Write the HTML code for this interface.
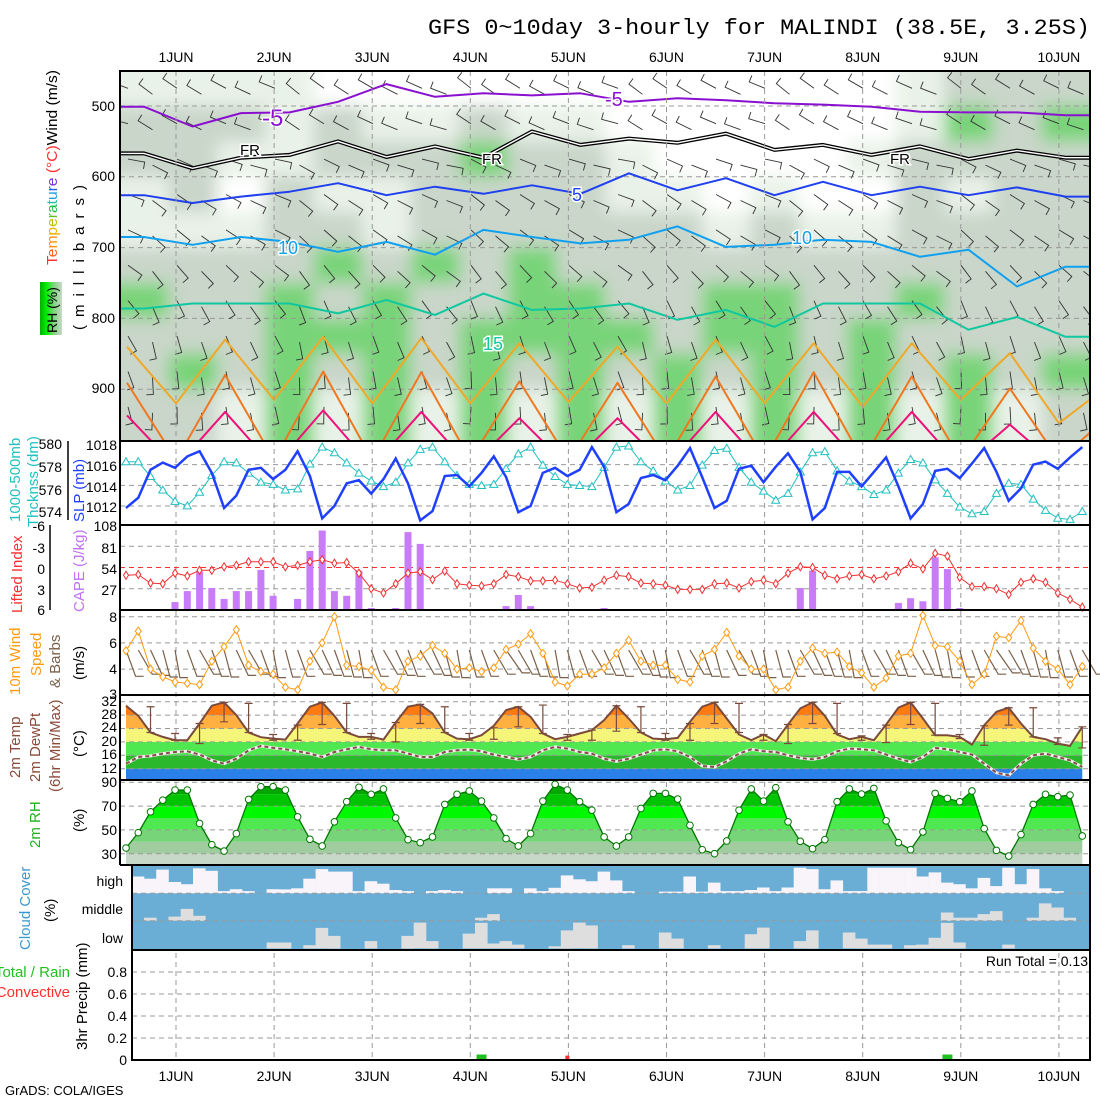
<!DOCTYPE html>
<html><head><meta charset="utf-8"><title>GFS meteogram MALINDI</title>
<style>
html,body{margin:0;padding:0;background:#fff;}
svg{display:block;font-family:"Liberation Sans",sans-serif;}
.lbl{font-size:14px;fill:#000;}
</style></head>
<body>
<svg id="chart" width="1100" height="1100" viewBox="0 0 1100 1100" xmlns="http://www.w3.org/2000/svg">
<defs>
<clipPath id="clipTop"><rect x="120" y="71" width="970" height="369"/></clipPath>
<filter id="soft" x="-5%" y="-5%" width="110%" height="110%"><feGaussianBlur stdDeviation="8"/></filter>
<linearGradient id="rhLeg" x1="0" x2="1" y1="0" y2="0">
<stop offset="0" stop-color="#00b000"/><stop offset="0.3" stop-color="#00f000"/><stop offset="0.6" stop-color="#78d478"/><stop offset="1" stop-color="#c8d8c8"/></linearGradient>
</defs>
<text x="428" y="34" font-family="Liberation Mono, monospace" font-size="22" textLength="662" lengthAdjust="spacingAndGlyphs">GFS 0~10day 3-hourly for MALINDI (38.5E, 3.25S)</text>
<text x="5" y="1095" font-size="13">GrADS: COLA/IGES</text>

<text transform="translate(57,265) rotate(-90)" font-size="15" textLength="195" lengthAdjust="spacingAndGlyphs"><tspan fill="#ff3030">T</tspan><tspan fill="#ff6020">e</tspan><tspan fill="#ff9010">m</tspan><tspan fill="#f0b000">p</tspan><tspan fill="#c0c000">e</tspan><tspan fill="#60c020">r</tspan><tspan fill="#20c040">a</tspan><tspan fill="#20c0a0">t</tspan><tspan fill="#20a0e0">u</tspan><tspan fill="#2060f0">r</tspan><tspan fill="#8030e0">e</tspan><tspan fill="#ff3030"> (°C)</tspan><tspan fill="#000">Wind (m/s)</tspan></text>
<text transform="translate(84,330) rotate(-90)" font-size="15" textLength="145" lengthAdjust="spacing">(millibars)</text>
<rect x="40" y="282" width="22" height="53" fill="url(#rhLeg)"/>
<text transform="translate(57,333) rotate(-90)" font-size="14">RH (%)</text>
<g class="lbl" text-anchor="end">
<text x="115" y="111">500</text><text x="115" y="181">600</text><text x="115" y="252">700</text><text x="115" y="323">800</text><text x="115" y="393">900</text>
</g>

<text transform="translate(20,522) rotate(-90)" font-size="15" fill="#20c0c0">1000-500mb</text>
<text transform="translate(38,527) rotate(-90)" font-size="15" fill="#20c0c0">Thcknss (dm)</text>
<text transform="translate(84,522) rotate(-90)" font-size="15" fill="#2040ff">SLP (mb)</text>
<line x1="68" y1="441" x2="68" y2="520" stroke="#000" stroke-width="1.5"/>
<g class="lbl" text-anchor="end">
<text x="62" y="449">580</text><text x="62" y="472">578</text><text x="62" y="495">576</text><text x="62" y="517">574</text></g>
<g class="lbl" text-anchor="end">
<text x="117" y="450">1018</text><text x="117" y="471">1016</text><text x="117" y="492">1014</text><text x="117" y="512">1012</text></g>

<text transform="translate(22,613) rotate(-90)" font-size="15" fill="#ff3030">Lifted Index</text>
<text transform="translate(84,612) rotate(-90)" font-size="15" fill="#c070f0">CAPE (J/kg)</text>
<line x1="50" y1="525" x2="50" y2="610" stroke="#000" stroke-width="1.5"/>
<g class="lbl" text-anchor="end">
<text x="45" y="531">-6</text><text x="45" y="553">-3</text><text x="45" y="574">0</text><text x="45" y="595">3</text><text x="45" y="615">6</text></g>
<g class="lbl" text-anchor="end">
<text x="117" y="531">108</text><text x="117" y="553">81</text><text x="117" y="574">54</text><text x="117" y="595">27</text></g>

<text transform="translate(20,695) rotate(-90)" font-size="15" fill="#ff9a10">10m Wind</text>
<text transform="translate(41,676) rotate(-90)" font-size="15" fill="#ff9a10">Speed</text>
<text transform="translate(60,688) rotate(-90)" font-size="15" fill="#7a6048">&amp; Barbs</text>
<text transform="translate(84,680) rotate(-90)" font-size="15">(m/s)</text>
<g class="lbl" text-anchor="end">
<text x="117" y="622">8</text><text x="117" y="648">6</text><text x="117" y="674">4</text><text x="117" y="699">3</text></g>

<text transform="translate(20,778) rotate(-90)" font-size="15" fill="#8a4a3a">2m Temp</text>
<text transform="translate(40,782) rotate(-90)" font-size="15" fill="#8a4a3a">2m DewPt</text>
<text transform="translate(60,792) rotate(-90)" font-size="15" fill="#8a4a3a">(6hr Min/Max)</text>
<text transform="translate(84,757) rotate(-90)" font-size="15">(°C)</text>
<g class="lbl" text-anchor="end" font-size="13">
<text x="117" y="706">32</text><text x="117" y="719">28</text><text x="117" y="732">24</text><text x="117" y="746">20</text><text x="117" y="759">16</text><text x="117" y="773">12</text></g>

<text transform="translate(40,848) rotate(-90)" font-size="15" fill="#20b020">2m RH</text>
<text transform="translate(84,832) rotate(-90)" font-size="15">(%)</text>
<g class="lbl" text-anchor="end">
<text x="117" y="787">90</text><text x="117" y="811">70</text><text x="117" y="835">50</text><text x="117" y="859">30</text></g>

<text transform="translate(30,950) rotate(-90)" font-size="15" fill="#3a9ad0">Cloud Cover</text>
<text transform="translate(55,922) rotate(-90)" font-size="15">(%)</text>
<g class="lbl" text-anchor="end" font-size="15">
<text x="123" y="886">high</text><text x="123" y="914">middle</text><text x="123" y="943">low</text></g>

<text x="70" y="977" font-size="15" fill="#20c020" text-anchor="end">Total / Rain</text>
<text x="70" y="997" font-size="15" fill="#ff3030" text-anchor="end">Convective</text>
<text transform="translate(87,1050) rotate(-90)" font-size="15">3hr Precip (mm)</text>
<g class="lbl" text-anchor="end">
<text x="127" y="977">0.8</text><text x="127" y="999">0.6</text><text x="127" y="1021">0.4</text><text x="127" y="1043">0.2</text><text x="127" y="1065">0</text></g>
<text x="1088" y="966" font-size="14" text-anchor="end">Run Total = 0.13</text>

<g id="plot"></g>
</svg>
<script>
const dayLabels=['1JUN','2JUN','3JUN','4JUN','5JUN','6JUN','7JUN','8JUN','9JUN','10JUN'];
const slp=[1011.8,1012.8,1015.5,1016.2,1015.7,1016.8,1017.3,1015.2,1011.8,1013.0,1015.5,1015.7,1014.6,1015.5,1017.3,1014.9,1010.8,1012.0,1014.2,1014.5,1013.2,1014.6,1016.6,1014.2,1010.6,1011.5,1014.9,1015.0,1013.9,1015.2,1016.8,1014.8,1011.4,1012.0,1015.2,1015.7,1014.9,1015.5,1017.7,1015.8,1011.4,1012.2,1014.7,1015.0,1014.5,1015.9,1017.6,1014.8,1011.8,1012.5,1015.6,1015.9,1014.3,1015.8,1017.1,1015.3,1010.7,1011.8,1015.3,1015.3,1013.9,1015.3,1016.7,1013.9,1010.8,1012.2,1015.4,1015.6,1014.7,1016.1,1017.6,1015.3,1012.5,1013.7,1016.0,1016.3,1015.6,1016.7,1017.7];
const thick=[578.4,578.4,577.1,575.9,574.9,574.5,575.7,577.2,578.4,578.3,577.4,576.6,576.4,575.9,576.0,578.2,579.7,579.2,578.3,577.4,576.7,576.2,576.6,578.3,579.5,579.7,578.4,577.2,576.4,576.3,576.4,577.8,579.1,579.7,578.1,577.1,576.4,576.3,576.2,577.9,579.7,579.8,578.4,577.6,576.7,575.9,576.3,578.1,579.4,579.6,577.9,576.6,575.8,575.0,575.6,577.5,579.2,579.3,577.6,576.7,576.2,575.5,575.9,577.4,578.6,578.3,576.8,575.6,574.4,573.8,574.0,575.6,576.5,576.4,575.1,574.1,573.4,573.3,574.0];
const cape=[1.3,0,0,0,10,24,49,28,14,24,24,51,18,0,14,75,101,24,18,50,2.5,0,2.5,99,84,0,0,0,0,0,0,5,19,5,0,0,0,0,1.3,2.5,0,0,0,0,0,0,0,0,0,0,0,0,0,0,0,28,50,0,0,0,0,0,0,9,15,11,67,52,2.5,0,0,0,0,0,0,0,0,0,0];
const liIdx=[1.1,1.0,2.2,2.3,0.8,1.2,0.4,0.4,-0.1,-0.3,-0.8,-0.8,-0.8,-0.1,-0.3,-0.8,-1.1,-0.6,-0.7,0.8,3.0,3.6,2.3,0.8,0.6,1.7,0.5,2.3,2.5,2.6,2.3,1.0,1.3,1.9,1.9,1.8,2.3,2.9,2.8,1.8,1.1,1.3,2.2,2.3,2.5,3.1,3.1,3.1,2.3,2.2,2.9,2.0,1.8,2.3,0.8,-0.1,0,1.1,1.6,1.2,1.0,1.6,1.2,0.6,-0.6,0.2,-2.0,-1.6,1.4,2.7,2.7,3.0,3.8,2.1,1.6,2.1,3.6,4.5,5.6];
const wspd=[5.4,6.9,4.0,3.7,3.5,3.45,3.4,4.6,5.7,7.0,4.3,3.9,3.8,3.3,3.2,4.6,6.0,8.0,4.3,4.2,3.95,3.3,3.2,4.6,5.0,5.8,5.2,4.0,4.1,3.9,4.1,5.5,5.9,6.7,5.2,3.5,3.35,3.8,3.8,4.1,5.2,6.2,4.6,4.3,4.3,3.6,3.5,5.0,5.5,6.8,5.0,4.0,4.0,3.2,3.3,4.6,5.6,5.2,5.3,4.2,3.85,3.3,3.65,5.0,5.2,8.1,5.8,5.7,4.6,3.4,3.8,6.5,6.4,7.7,5.6,4.6,4.0,3.4,4.2];
const wdir=[160,150,155,165,170,160,150,160,165,155,150,160,170,165,160,150,155,160,165,170,160,150,155,160,150,155,165,170,165,160,150,145,150,160,165,170,165,160,150,155,160,150,155,165,170,160,150,160,165,155,150,160,170,165,160,150,155,160,165,170,160,150,155,160,150,155,165,170,165,160,150,145,150,160,165,170,165,160,150];
const t2m=[30.8,27.8,22.8,21.5,20.5,20.5,25.5,30.8,31.8,28,22.8,21.4,21,20.7,25.5,30.5,31.8,27.8,22.8,21.5,21.5,20.7,25.8,30.5,31.2,28.5,22.8,21,20.8,22,24.8,29.5,30.5,27.5,22.5,20.8,21.5,22.5,23.5,26.5,30.8,27,22.8,21,20.8,21.2,26,30.5,31.8,27,22.2,20.5,22.2,20.2,25.2,30,31.8,27.8,22.2,20.8,21.5,20.5,25.2,30.2,31.8,27,22,22,21.5,19.2,25,29,30.2,25.5,21.5,20.8,19.5,18.8,24.5];
const td2m=[13.5,15.5,15.8,16.5,17,17.2,16.2,14.5,13.5,15,17.5,18.8,18.2,17.8,17.2,16.5,15.5,17,17.8,18.5,17.8,17.5,17.5,16.5,15.5,15.5,17,17.5,17.7,17.2,16.2,15.5,14.8,15.5,17.5,18.5,18,17,16.5,15,14.2,15,16.2,17.5,17.8,17.2,15.5,12.8,12.5,14.2,16.5,17.8,17.2,17,16,15.2,14.8,15.5,17.2,18,17.8,17.5,16.2,15,14,15.5,18.2,17.8,17,16.2,13.5,10.8,10,13.5,16,16.5,15.5,14.5,12.5];
const tMax6=[30.5,22.5,25.5,31.8,31.5,22.2,25,31.8,31.5,22.5,25.8,31.2,30.5,22.5,24.2,30.5,31,22.2,23.5,30.8,30.5,22.5,25.5,31.8,31.5,22.2,25.2,31.8,31.5,21.8,25,31.8,31.5,22.2,24.8,30.2,30.2,21.2,24.5];
const tMin6=[22.8,20.5,19.5,26,22.8,20.5,20.5,25.2,22.8,20.8,20,25.5,22.8,20.5,20.8,24.5,22.5,20.5,20.5,23.2,22.8,20.5,20.5,25.5,22.8,20.5,19.5,25.5,22.5,20.5,19.8,25.2,22,21,19,25,21.5,19.2,18.2];
const rh2m=[34.8,47.7,65.2,75,83.5,83.5,55.4,37.6,32.2,46.9,75.6,86.3,86.3,83.5,61,42.1,36.5,56.8,73.7,85.8,79.9,84.4,60.1,41.8,39.3,44.1,71.4,79.9,82.7,74.2,60.1,42.7,36.5,46.9,74.2,88.3,83.5,73.7,66.6,44.1,36.5,44.1,68,80.7,80.7,75.9,53.9,33.4,30,40.7,66.6,84.4,74.2,85.5,56.8,40.4,34.2,41.8,73.7,84.4,80.1,84.9,57.6,39.3,33.4,48.3,80.7,76.5,73.7,82.7,51.1,32.8,28,46.1,71.4,79.9,77.9,79.3,44.9];
const cloudHigh=[61,53,86,41,33,91,82,8,15,8,0,15,14,18,53,88,79,79,8,44,35,12,8,0,8,12,8,0,0,18,18,0,18,8,20,65,51,44,79,47,8,0,0,6,6,61,6,39,8,8,12,21,8,21,93,88,15,47,8,8,93,93,93,93,61,76,39,33,18,56,26,93,33,88,18,8,0,0];
const cloudMid=[0,11,0,15,43,18,0,0,0,0,0,0,0,0,0,0,0,0,0,0,0,0,0,0,0,0,0,0,11,24,0,0,0,0,0,0,0,0,0,0,0,0,0,0,0,0,0,0,0,0,0,0,0,0,0,0,0,0,0,0,0,0,0,0,0,0,30,11,11,24,35,0,0,11,63,48,11,0];
const cloudLow=[0,0,0,0,0,0,0,0,0,0,0,22,22,0,12,75,46,0,0,27,0,0,46,94,27,0,0,54,93,18,27,14,0,0,8,66,94,84,0,0,12,0,0,58,36,0,0,12,0,0,52,76,0,0,27,66,0,0,58,36,14,14,0,12,14,39,93,22,0,0,0,14,0,0,0,0,0,0];
const precipTotal=[0,0,0,0,0,0,0,0,0,0,0,0,0,0,0,0,0,0,0,0,0,0,0,0,0,0,0,0,0,0.05,0,0,0,0,0,0,0,0,0,0,0,0,0,0,0,0,0,0,0,0,0,0,0,0,0,0,0,0,0,0,0,0,0,0,0,0,0,0.05,0,0,0,0,0,0,0,0,0,0,0];
const precipConv=[0,0,0,0,0,0,0,0,0,0,0,0,0,0,0,0,0,0,0,0,0,0,0,0,0,0,0,0,0,0,0,0,0,0,0,0,0.04,0,0,0,0,0,0,0,0,0,0,0,0,0,0,0,0,0,0,0,0,0,0,0,0,0,0,0,0,0,0,0,0,0,0,0,0,0,0,0,0,0,0];
const rhLayerBounds=[450,500,550,600,650,700,750,800,850,900,975];
const rhGrid=[
[40,40,30,30,20,10,10,10,20,20,10,10,10,10,10,10,30,60,60,55],
[60,70,55,40,50,40,30,50,40,40,20,10,10,10,10,15,45,80,60,75],
[50,60,40,40,60,60,55,80,50,60,30,20,20,15,20,35,60,70,50,70],
[40,50,20,50,40,40,60,65,50,55,30,35,20,30,10,20,60,40,50,55],
[40,45,40,50,70,40,70,55,60,65,50,50,45,50,30,45,60,55,65,60],
[60,65,60,65,85,70,85,60,75,70,65,70,60,70,55,60,70,60,70,60],
[75,70,60,75,70,75,70,65,75,75,70,60,75,75,60,60,75,65,70,60],
[65,55,60,75,75,75,65,85,75,85,75,65,75,75,60,75,60,70,60,55],
[55,75,60,75,60,75,60,75,60,80,60,75,65,75,60,85,60,85,60,75],
[50,70,35,75,35,75,35,75,35,75,35,75,35,75,35,75,35,75,35,70]];
const isoM5=[501,529,510,509,494,469,487,482,485,482,494,489,492,496,498,501,508,509,509,513];
const isoFR=[567,588,573,569,550,572,557,573,536,555,546,552,539,562,555,569,557,575,563,573];
const iso5=[626,637,628,621,609,626,614,624,612,624,595,619,602,626,607,626,614,626,615,628];
const iso10=[685,696,685,692,706,692,710,675,685,694,689,670,699,696,689,692,713,703,755,727];
const iso15=[786,779,779,779,793,774,795,765,788,786,779,802,788,812,779,779,779,816,798,826];
const iso20=[840,920,830,915,826,920,828,920,835,918,840,920,830,920,835,925,835,915,849,948,895];
const iso25=[891,1000,880,1000,875,1000,876,1000,889,1000,891,1000,882,1000,876,1000,882,1000,899,1000,939];
const iso30=[937,1010,932,1010,930,1010,932,1010,941,1010,941,1010,932,1010,932,1010,932,1010,950,1010,960];
const barbLevels=[475,525,575,625,675,725,775,825,875,925];
const barbDirs=[300,295,110,120,125,135,150,160,170,175];

const NS='http://www.w3.org/2000/svg';
const plot=document.getElementById('plot');
function mk(tag,attrs,parent){const e=document.createElementNS(NS,tag);for(const k in attrs)e.setAttribute(k,attrs[k]);(parent||plot).appendChild(e);return e;}
function X(i){return 126+12.26*i;}
function CX(k){return 131.7+12.26*k;}
function colX(c){return 144+48.5*c;}
function kX(k){return 127+49.05*k;}
function dayX(d){return 176+98.1*d;}
function yP(p){return 106+(p-500)*0.708;}
function ySLP(v){return 444+(1018-v)*10.33;}
function yThk(v){return 443.7+(580-v)*11.3;}
function yLI(v){return 525+(v+6)*7.08;}
function yCAPE(v){return 610-v*0.787;}
function yW(v){return v>=4?616.7+(8-v)*13.1:669+(4-v)*26;}
function yT(v){return 701.7+(32-v)*3.35;}
function yRH(v){return 782.3+(90-v)*1.19;}
function yPr(v){return 1060-v*110;}
function pts(arr,fx,fy){return arr.map((v,i)=>fx(i).toFixed(1)+','+fy(v).toFixed(1)).join(' ');}

const topG=mk('g',{'clip-path':'url(#clipTop)'});


const bgTop=mk('rect',{x:120,y:71,width:970,height:369,fill:'#e9f2e8'},topG);


const fieldG=mk('g',{filter:'url(#soft)'},topG);


function rhColor(v){return v<30?'#ffffff':v<50?'#e9f2e8':v<72?'#c9d6c9':v<90?'#78d478':'#00f000';}
rhGrid.forEach((row,r)=>{row.forEach((v,c)=>{
  const y0=yP(rhLayerBounds[r]),y1=yP(rhLayerBounds[r+1]);
  const x0=c===0?100:120+48.5*c, w=(c===0||c===19)?69:49;
  const yy0=r===0?50:y0, yy1=r===rhGrid.length-1?470:y1;
  const cell=mk('rect',{x:x0.toFixed(1),y:yy0.toFixed(1),width:w,height:(yy1-yy0+0.5).toFixed(1),fill:rhColor(v)},fieldG);
  
  
});});
[500,600,700,800,900].forEach(p=>{const l=mk('line',{x1:120,x2:1090,y1:yP(p),y2:yP(p),stroke:'#999',"stroke-dasharray":'5,4'},topG);

});
for(let j=0;128+24.5*j<1090;j++){const x=128+24.5*j;
  barbLevels.forEach((p,li)=>{const d=(barbDirs[li]+((j*37)%20)-10)*Math.PI/180;const L=17;
    const y=yP(p)+((j%2)*6);const ex=x+Math.sin(d)*L,ey=y-Math.cos(d)*L;
    const tx=ex+Math.cos(d)*7,ty=ey+Math.sin(d)*7;
    const b=mk('polyline',{points:`${x.toFixed(1)},${y.toFixed(1)} ${ex.toFixed(1)},${ey.toFixed(1)} ${tx.toFixed(1)},${ty.toFixed(1)}`,fill:'none',stroke:'#333','stroke-width':0.9},topG);
    
    });}
function isoLine(arr,color,w,name,grid){
  let p;
  if(grid==='col'){p=[[120,arr[0]]].concat(arr.map((v,c)=>[colX(c),v])).concat([[1090,arr[arr.length-1]]]);}
  else{p=arr.map((v,k)=>[kX(k),v]);}
  const s=p.map(q=>q[0].toFixed(1)+','+yP(q[1]).toFixed(1)).join(' ');
  const e=mk('polyline',{points:s,fill:'none',stroke:color,'stroke-width':w,'stroke-linejoin':'round'},topG);
  
  
  return s;}
isoLine(isoM5,'#8a10d0',2,'isotherm-minus5','col');
const frPts=isoLine(isoFR,'#000',4,'isotherm-freezing','col');
const frInner=mk('polyline',{points:frPts,fill:'none',stroke:'#fff','stroke-width':1.4},topG);


isoLine(iso5,'#2040f0',2,'isotherm-5','col');
isoLine(iso10,'#10a0f0',2,'isotherm-10','col');
isoLine(iso15,'#10c8a0',2,'isotherm-15','col');
isoLine(iso20,'#f0a828',2,'isotherm-20','k');
isoLine(iso25,'#f07820',2,'isotherm-25','k');
isoLine(iso30,'#f0107a',2,'isotherm-30','k');
[[262,126,'-5','#8a10d0',24],[605,106,'-5','#8a10d0',20],[240,155,'FR','#000',15],[482,164,'FR','#000',15],[890,164,'FR','#000',15],[572,201,'5','#2040f0',18],[278,254,'10','#10a0f0',18],[792,244,'10','#10a0f0',18],[483,350,'15','#10c8a0',18]].forEach(a=>{
  const t=mk('text',{x:a[0],y:a[1],fill:a[3],'font-size':a[4],stroke:'#fff','stroke-width':3,'paint-order':'stroke'},topG);t.textContent=a[2];
  
  });

dayLabels.forEach((lab,d)=>{const x=dayX(d);
  const g=mk('line',{x1:x,x2:x,y1:71,y2:1060,stroke:'#999','stroke-dasharray':'5,4'});
  
  
  const t1=mk('text',{x:x,y:62,'text-anchor':'middle','font-size':14});t1.textContent=lab;
  
  
  const t2=mk('text',{x:x,y:1081,'text-anchor':'middle','font-size':14});t2.textContent=lab;
  
  
});
function hgrid(y,x0,name,color){const l=mk('line',{x1:x0||120,x2:1090,y1:y,y2:y,stroke:color||'#999','stroke-dasharray':'5,4'});
  
  }

[1016,1014,1012].forEach(v=>hgrid(ySLP(v),120,'slp-gridline'));
const thkLine=mk('polyline',{points:pts(thick,X,yThk),fill:'none',stroke:'#20c0c0','stroke-width':1});


thick.forEach((v,i)=>{const x=X(i),y=yThk(v);
  const m=mk('polygon',{points:`${x},${y-4} ${x-4},${y+3} ${x+4},${y+3}`,fill:'#fff',stroke:'#20c0c0','stroke-width':1});
  
  });
const slpLine=mk('polyline',{points:pts(slp,X,ySLP),fill:'none',stroke:'#2040ff','stroke-width':2.5});



[-3,3].forEach(v=>hgrid(yLI(v),120,'li-gridline'));
hgrid(yLI(0),120,'li-zero-line','#ff3030');
cape.forEach((v,i)=>{if(v<=0)return;
  const b=mk('rect',{x:(X(i)-3.5).toFixed(1),y:yCAPE(v).toFixed(1),width:7,height:(610-yCAPE(v)).toFixed(1),fill:'#c87cf8'});
  
  });
const liLine=mk('polyline',{points:pts(liIdx,X,yLI),fill:'none',stroke:'#f03030','stroke-width':1});


liIdx.forEach((v,i)=>{const x=X(i),y=yLI(v);
  const m=mk('polygon',{points:`${x},${y-4} ${x+2.5},${y} ${x},${y+4} ${x-2.5},${y}`,fill:'#fff',stroke:'#f03030','stroke-width':1});
  
  });

[8,6,4].forEach(v=>hgrid(yW(v),120,'wind-gridline'));
wdir.forEach((dd,i)=>{const x=X(i),y=650,d=dd*Math.PI/180,L=28;
  const ex=x+Math.sin(d)*L,ey=y-Math.cos(d)*L;
  const b=mk('polyline',{points:`${x.toFixed(1)},${y} ${ex.toFixed(1)},${ey.toFixed(1)} ${(ex+8).toFixed(1)},${(ey).toFixed(1)}`,fill:'none',stroke:'#7a6048','stroke-width':1.2});
  
  });
const wLine=mk('polyline',{points:pts(wspd,X,yW),fill:'none',stroke:'#ff9a10','stroke-width':1});


wspd.forEach((v,i)=>{const x=X(i),y=yW(v);
  const m=mk('polygon',{points:`${x},${y-4} ${x+3},${y} ${x},${y+4} ${x-3},${y}`,fill:'#fff',stroke:'#ff9a10','stroke-width':1});
  
  });

const tClip=mk('clipPath',{id:'tClip'});
const tPoly=mk('polygon',{points:pts(t2m,X,yT)+` ${X(t2m.length-1)},780 ${X(0)},780`},tClip);


const tBands=[[-99,12,'#2a7fe8'],[12,16,'#2cb82c'],[16,20,'#50e850'],[20,24,'#f5f57a'],[24,28,'#ffb040'],[28,32,'#ff7a10'],[32,99,'#e85a00']];
const tG=mk('g',{'clip-path':'url(#tClip)'});


tBands.forEach(b=>{const y0=Math.max(695,yT(b[1])),y1=Math.min(780,yT(b[0]));
  const r=mk('rect',{x:120,y:y0,width:970,height:Math.max(0,y1-y0),fill:b[2]},tG);
  
  });
[32,28,24,20,16,12].forEach(v=>hgrid(yT(v),120,'temp-gridline'));
tMax6.forEach((v,j)=>{const i=2*j+2,x=X(i),y0=yT(v),y1=yT(tMin6[j]);
  const e=mk('path',{d:`M${x-4},${y0}H${x+4}M${x},${y0}V${y1}M${x-4},${y1}H${x+4}`,stroke:'#7a4a3a','stroke-width':1.2,fill:'none'});
  
  });
const tdUnder=mk('polyline',{points:pts(td2m,X,yT),fill:'none',stroke:'#eee','stroke-width':3});


const tdLine=mk('polyline',{points:pts(td2m,X,yT),fill:'none',stroke:'#8a4a4a','stroke-width':2,'stroke-dasharray':'4,3'});


const tLine=mk('polyline',{points:pts(t2m,X,yT),fill:'none',stroke:'#7a4a3a','stroke-width':2});



const rClip=mk('clipPath',{id:'rClip'});
const rPoly=mk('polygon',{points:pts(rh2m,X,yRH)+` ${X(rh2m.length-1)},865 ${X(0)},865`},rClip);


const rBands=[[0,30,'#c8d8c8'],[30,40,'#a0cca0'],[40,50,'#78d478'],[50,60,'#50e850'],[60,70,'#00f800'],[70,80,'#00c400'],[80,100,'#00a800']];
const rG=mk('g',{'clip-path':'url(#rClip)'});


rBands.forEach(b=>{const y0=Math.max(780,yRH(b[1])),y1=Math.min(865,yRH(b[0]));
  const r=mk('rect',{x:120,y:y0,width:970,height:Math.max(0,y1-y0),fill:b[2]},rG);
  
  });
[90,70,50,30].forEach(v=>hgrid(yRH(v),120,'rh-gridline'));
const rLine=mk('polyline',{points:pts(rh2m,X,yRH),fill:'none',stroke:'#007800','stroke-width':1.3});


rh2m.forEach((v,i)=>{const c=mk('circle',{cx:X(i),cy:yRH(v),r:3.3,fill:'#fff',stroke:'#007800','stroke-width':1});
  
  });

const cBg=mk('rect',{x:132,y:865,width:958,height:85,fill:'#6aaed6'});


function cloudBars(arr,bottom,color,name){arr.forEach((v,k)=>{if(v<=0)return;const h=v/100*27.5;
  const r=mk('rect',{x:CX(k).toFixed(1),y:(bottom-h).toFixed(1),width:12.6,height:h.toFixed(1),fill:color});
  
  });}
cloudBars(cloudHigh,893.3,'#f8f4fa','cloud-high-bar');
cloudBars(cloudMid,920.7,'#dedede','cloud-mid-bar');
cloudBars(cloudLow,948.5,'#dedede','cloud-low-bar');
hgrid(893.3,132,'cloud-divider');
hgrid(920.7,132,'cloud-divider');

[0.8,0.6,0.4,0.2].forEach(v=>hgrid(yPr(v),132,'precip-gridline'));
precipTotal.forEach((v,i)=>{if(v<=0)return;
  const r=mk('rect',{x:X(i)-5,y:yPr(v),width:10,height:1060-yPr(v),fill:'#20c020'});
  
  });
precipConv.forEach((v,i)=>{if(v<=0)return;
  const r=mk('rect',{x:X(i)-2,y:yPr(v),width:4,height:1060-yPr(v),fill:'#ff3030'});
  
  });

[71,441,525,610,695,780,865,950,1060].forEach(y=>{const x0=y>=950?132:120;
  const l=mk('line',{x1:x0,x2:1091,y1:y,y2:y,stroke:'#000','stroke-width':2});
  
  });
const lf=mk('line',{x1:120,x2:120,y1:70,y2:865,stroke:'#000','stroke-width':2});


const lf2=mk('line',{x1:132,x2:132,y1:865,y2:1061,stroke:'#000','stroke-width':2});


const rf=mk('line',{x1:1090,x2:1090,y1:70,y2:1061,stroke:'#000','stroke-width':2});


</script>
</body></html>
